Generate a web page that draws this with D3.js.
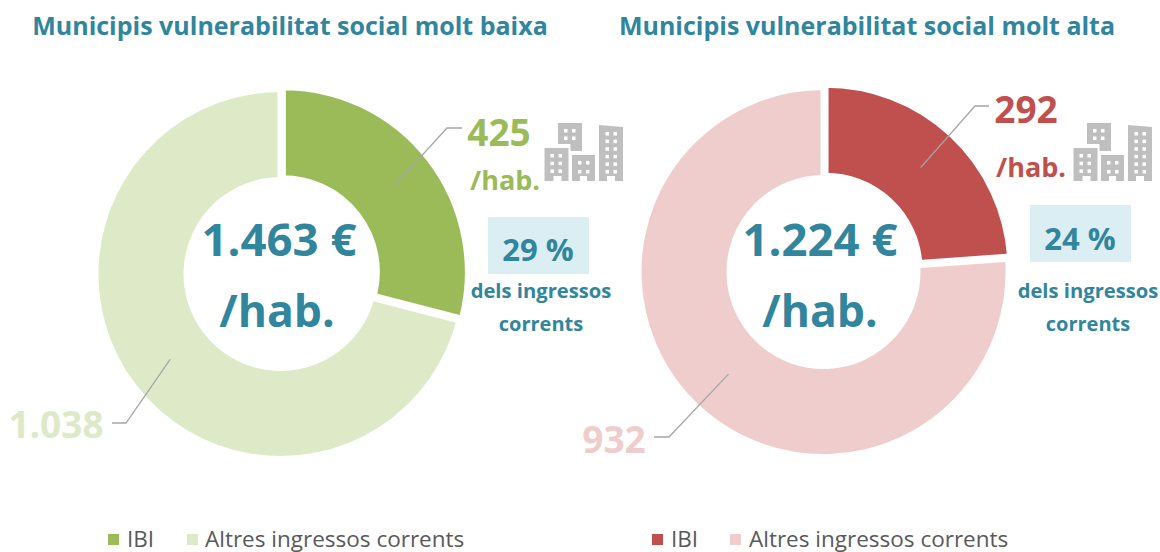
<!DOCTYPE html>
<html><head><meta charset="utf-8">
<script src="https://cdnjs.cloudflare.com/ajax/libs/d3/7.8.5/d3.min.js"></script>
<style>html,body{margin:0;padding:0;background:#fff}svg{display:block}text{font-family:"Open Sans",sans-serif}</style>
</head><body><svg id="c" width="1160" height="552"></svg>
<script>
const titles=["Municipis vulnerabilitat social molt baixa","Municipis vulnerabilitat social molt alta"];
const ibiValues=[425,292];
const otherValues=[1038,932];
const totalLabels=["1.463 €","1.224 €"];
const otherLabels=["1.038","932"];
const shareLabels=["29 %","24 %"];
const legendLabels=["IBI","Altres ingressos corrents"];
const strongColors=["#9BBB59","#C0504D"];
const paleColors=["#DEE9C8","#EFCDCC"];
const teal="#31859C", grey="#A6A6A6";

const layouts=[
 {cx:280.5,cy:274,title:[290,35],total:[279,256],hab:[277,327],
  ibiElbow:[447,128],ibiEnd:[462,128],otherElbow:[126,423],otherEnd:[112,423],
  ibiText:[499,146],habText:[505,190],icon:[544,123],box:[488,217,101,57],share:[538,261],dels:[541,298],corr:[541,331],
  otherText:[56,438],legend:[108,187,205]},
 {cx:823.5,cy:272,title:[867,35],total:[820,256],hab:[820,327],
  ibiElbow:[975,106],ibiEnd:[989,106],otherElbow:[669,437],otherEnd:[654,437],
  ibiText:[1026,123],habText:[1031,177],icon:[1073,123],box:[1030,205,101,57],share:[1080,250],dels:[1088,298],corr:[1088,331],
  otherText:[614,453],legend:[652,730,749]}
];
const svg=d3.select("#c");
const R=185,r0=94,explode=3;
const arc=d3.arc().innerRadius(r0).outerRadius(R);
const mid=d=>(d.startAngle+d.endAngle)/2;

function building(g,x,y){
  const c="#BFBFBF";
  const s=g.append("g").attr("transform",`translate(${x},${y})`);
  const shapes=[
    "M0.5,25H24.5V58H17.5V53H9.5V58H0.5Z",
    "M14,0H38V28H26.5V21H14Z",
    "M28,32H51V58H43V53H36V58H28Z",
    "M55,2L79,4V58H71V53H63V58H55Z"
  ];
  s.selectAll("path").data(shapes).enter().append("path").attr("d",d=>d).attr("fill",c);
  const wins=[[6.5,31,2,3,8,7.7],[20,6,2,2,8,7.5],[34,38,2,2,8,9],[61.5,9,2,6,8,7.6]];
  wins.forEach(w=>{
    for(let r=0;r<w[3];r++)for(let k=0;k<w[2];k++)
      s.append("rect").attr("x",w[0]+k*w[4]).attr("y",w[1]+r*w[5]).attr("width",3.5).attr("height",3.5).attr("fill","#fff");
  });
}

layouts.forEach((L,i)=>{
  const g=svg.append("g");
  const pie=d3.pie().sort(null).value(d=>d)([ibiValues[i],otherValues[i]]);
  const off=d=>d.index===0?[Math.sin(mid(d))*explode,-Math.cos(mid(d))*explode]:[0,0];
  g.selectAll("path.s").data(pie).enter().append("path").attr("class","s")
    .attr("d",arc).attr("fill",d=>d.index===0?strongColors[i]:paleColors[i])
    .attr("stroke","#fff").attr("stroke-width",6)
    .attr("transform",d=>{const o=off(d);return `translate(${L.cx+o[0]},${L.cy+o[1]})`});
  pie.forEach(d=>{
    const c=arc.centroid(d),o=off(d);
    const pts=[[L.cx+o[0]+c[0],L.cy+o[1]+c[1]],d.index===0?L.ibiElbow:L.otherElbow,d.index===0?L.ibiEnd:L.otherEnd];
    g.append("path").attr("d",d3.line()(pts)).attr("fill","none").attr("stroke",grey).attr("stroke-width",1.3);
  });
  const t=(p,s,size,fill,w=700,a="middle")=>g.append("text").attr("x",p[0]).attr("y",p[1]).attr("font-size",size).attr("font-weight",w).attr("fill",fill).attr("text-anchor",a).text(s);
  t(L.title,titles[i],25,teal);
  t(L.total,totalLabels[i],45.5,teal);
  t(L.hab,"/hab.",44.5,teal);
  t(L.ibiText,ibiValues[i],37,strongColors[i]);
  t(L.habText,"/hab.",27,strongColors[i]);
  t(L.otherText,otherLabels[i],37,paleColors[i]);
  g.append("rect").attr("x",L.box[0]).attr("y",L.box[1]).attr("width",L.box[2]).attr("height",L.box[3]).attr("fill","#DAEEF3");
  t(L.share,shareLabels[i],31,teal);
  t(L.dels,"dels ingressos",20.2,teal);
  t(L.corr,"corrents",20,teal);
  building(g,L.icon[0],L.icon[1]);
  g.append("rect").attr("x",L.legend[0]).attr("y",534).attr("width",11).attr("height",11).attr("fill",strongColors[i]);
  t([L.legend[0]+19,547],legendLabels[0],22.5,"#595959",400,"start");
  g.append("rect").attr("x",L.legend[1]).attr("y",534).attr("width",11).attr("height",11).attr("fill",paleColors[i]);
  t([L.legend[2],547],legendLabels[1],22.5,"#595959",400,"start");
});
</script></body></html>
